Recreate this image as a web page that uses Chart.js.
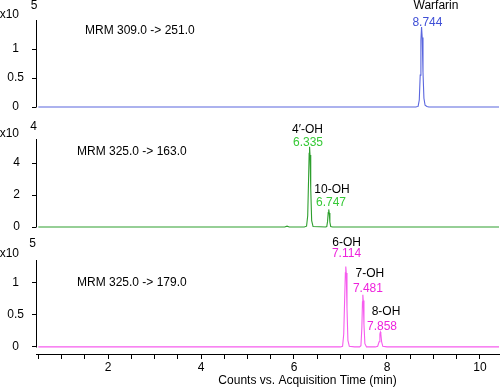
<!DOCTYPE html>
<html><head><meta charset="utf-8">
<script src="https://cdn.jsdelivr.net/npm/chart.js@4.4.1/dist/chart.umd.min.js"></script>
<style>
html,body{margin:0;padding:0;background:#fff;}
#wrap{position:relative;width:500px;height:388px;overflow:hidden;background:#fff;}
canvas{position:absolute;left:0;}
</style></head><body>
<div id="wrap">
<canvas id="c1" width="500" height="115" style="top:0px"></canvas>
<canvas id="c2" width="500" height="120" style="top:115px"></canvas>
<canvas id="c3" width="500" height="153" style="top:235px"></canvas>
</div>
<script>
// ---------------- DATA ----------------
const xAxisTitle = 'Counts vs. Acquisition Time (min)';
const xTickValues = [0.5,1,1.5,2,2.5,3,3.5,4,4.5,5,5.5,6,6.5,7,7.5,8,8.5,9,9.5,10];
const xLabeledTicks = [2,4,6,8,10];

// Panel 1: MRM 309.0 -> 251.0 (x10^5)
const p1Title = 'MRM 309.0 -> 251.0';
const p1Exponent = '5';
const p1YTicks = [0,0.5,1];
const p1Times = [0.5, 8.62, 8.67, 8.695, 8.715, 8.73, 8.744, 8.758, 8.775, 8.795, 8.82, 8.86, 8.9, 10.41];
const p1Values = [0, 0, 0.01, 0.12, 0.55, 1.15, 1.38, 1.2, 0.6, 0.15, 0.03, 0.01, 0, 0];
const p1PeakNames = ['Warfarin'];
const p1PeakTimes = [8.744];
const p1PeakHeights = [1.38];

// Panel 2: MRM 325.0 -> 163.0 (x10^4)
const p2Title = 'MRM 325.0 -> 163.0';
const p2Exponent = '4';
const p2YTicks = [0,2,4];
const p2Times = [0.5, 5.8, 5.85, 5.9, 6.22, 6.27, 6.295, 6.313, 6.326, 6.335, 6.345, 6.36, 6.38, 6.41, 6.68, 6.705, 6.722, 6.736, 6.747, 6.758, 6.772, 6.79, 6.83, 10.41];
const p2Values = [0, 0, 0.05, 0, 0, 0.05, 0.7, 2.9, 4.6, 5.02, 4.5, 2.4, 0.4, 0.03, 0, 0.03, 0.35, 0.9, 1.1, 0.88, 0.3, 0.03, 0, 0];
const p2PeakNames = ["4\u2032-OH", '10-OH'];
const p2PeakTimes = [6.335, 6.747];
const p2PeakHeights = [5.02, 1.1];

// Panel 3: MRM 325.0 -> 179.0 (x10^5)
const p3Title = 'MRM 325.0 -> 179.0';
const p3Exponent = '5';
const p3YTicks = [0,0.5,1];
const p3Times = [0.5, 7.0, 7.045, 7.07, 7.09, 7.105, 7.114, 7.124, 7.14, 7.16, 7.19, 7.3, 7.41, 7.44, 7.46, 7.473, 7.481, 7.49, 7.505, 7.525, 7.56, 7.75, 7.8, 7.83, 7.848, 7.858, 7.868, 7.885, 7.91, 8.0, 10.41];
const p3Values = [0, 0, 0.01, 0.2, 0.75, 1.15, 1.25, 1.15, 0.6, 0.1, 0.01, 0, 0, 0.02, 0.3, 0.7, 0.81, 0.72, 0.35, 0.05, 0, 0, 0.01, 0.08, 0.2, 0.23, 0.2, 0.08, 0.01, 0, 0];
const p3PeakNames = ['6-OH', '7-OH', '8-OH'];
const p3PeakTimes = [7.114, 7.481, 7.858];
const p3PeakHeights = [1.25, 0.81, 0.23];

// ---------------- STYLE ----------------
const FONT = '"Liberation Sans", Arial, sans-serif';
const styles = {
  p1: {line:'#5a66de', label:'#3f4fd6', yMin:0, yMax:1.5, pad:{top:20,bottom:0,left:0,right:1}, yPad:8, xHeight:8,
       titlePos:{x:85, dy:10.7}, expPos:{dyX10:-5.5, dyExp:-14, xExp:34},
       labelOffsets:[{dxNum:5.9, dyNum:4.3, dxName:14.4, dyName:21}]},
  p2: {line:'#2e9f2e', label:'#36c936', yMin:0, yMax:5.5, pad:{top:24,bottom:0,left:0,right:1}, yPad:12, xHeight:8,
       titlePos:{x:77, dy:12.7}, expPos:{dyX10:-5.7, dyExp:-12.3, xExp:33.5},
       labelOffsets:[{dxNum:-1.6, dyNum:4, dxName:-2.1, dyName:16.7},{dxNum:2.3, dyNum:6.7, dxName:3.3, dyName:19.4}]},
  p3: {line:'#f65cee', label:'#ee22dc', yMin:-0.11, yMax:1.35, pad:{top:25,bottom:0,left:0,right:1}, yPad:8, xHeight:34,
       titlePos:{x:77, dy:22.3}, expPos:{dyX10:-6.7, dyExp:-16, xExp:32.5},
       labelOffsets:[{dxNum:0.7, dyNum:12.4, dxName:0.9, dyName:23.7},{dxNum:5.1, dyNum:5.7, dxName:7.1, dyName:20.7},{dxNum:1.6, dyNum:5.4, dxName:5.6, dyName:20.4}]}
};
const X_MIN = 0.45, X_MAX = 10.41;

const annot = {
  id:'annot',
  afterDraw(chart, args, o){
    const {ctx, chartArea:a, scales:{x,y}} = chart;
    const st = o.style;
    ctx.save();
    ctx.strokeStyle = '#000'; ctx.lineWidth = 1;
    const ax = Math.floor(a.left) + 0.5;
    ctx.beginPath(); ctx.moveTo(ax, a.top); ctx.lineTo(ax, Math.round(y.getPixelForValue(0)) + 0.5); ctx.stroke();
    ctx.font = '12px ' + FONT;
    ctx.fillStyle = '#000';
    ctx.textBaseline = 'middle';
    ctx.textAlign = 'right';
    ctx.fillText('x10', 19, a.top + st.expPos.dyX10);
    ctx.textAlign = 'center';
    ctx.fillText(o.exponent, st.expPos.xExp, a.top + st.expPos.dyExp);
    ctx.textAlign = 'left';
    ctx.fillText(o.title, st.titlePos.x, a.top + st.titlePos.dy);
    ctx.textAlign = 'center';
    o.names.forEach((nm, i) => {
      const px = x.getPixelForValue(o.times[i]);
      const py = y.getPixelForValue(o.heights[i]);
      const off = st.labelOffsets[i];
      ctx.fillStyle = '#000';
      ctx.fillText(nm, px + off.dxName, py - off.dyName);
      ctx.fillStyle = st.label;
      ctx.fillText(o.times[i].toFixed(3), px + off.dxNum, py - off.dyNum);
    });
    if (o.axisTitle) {
      ctx.fillStyle = '#000';
      ctx.textAlign = 'center';
      ctx.fillText(o.axisTitle, 307.5, a.bottom + 27);
    }
    ctx.restore();
  }
};

function makeChart(id, times, values, st, yTicks, title, exponent, names, pTimes, pHeights, showX) {
  const data = times.map((t, i) => ({x:t, y:values[i]}));
  return new Chart(document.getElementById(id), {
    type:'line',
    data:{datasets:[{data, borderColor:st.line, borderWidth:1.1, pointRadius:0, fill:false, tension:0, clip:false}]},
    options:{
      responsive:false, animation:false, devicePixelRatio:1,
      layout:{padding:st.pad},
      plugins:{legend:{display:false}, tooltip:{enabled:false},
        annot:{style:st, title, exponent, names, times:pTimes, heights:pHeights, axisTitle: showX ? xAxisTitle : null}},
      scales:{
        x:{type:'linear', min:X_MIN, max:X_MAX, display:true,
           afterBuildTicks(s){ s.ticks = xTickValues.map(v => ({value:v})); },
           afterFit(s){ s.height = st.xHeight; s.paddingLeft = 0; s.paddingRight = 0; },
           grid:{display:showX, drawOnChartArea:false, drawTicks:showX, tickLength:5, color:'#000'},
           border:{display:showX, color:'#000'},
           ticks:{display:showX, autoSkip:false, maxRotation:0, padding:1, color:'#000', font:{family:FONT, size:12},
                  callback:(v) => xLabeledTicks.includes(v) ? String(v) : ''}},
        y:{type:'linear', min:st.yMin, max:st.yMax,
           afterBuildTicks(s){ s.ticks = yTicks.map(v => ({value:v})); },
           afterFit(s){ s.width = 36; s.paddingTop = 0; s.paddingBottom = 0; },
           grid:{drawOnChartArea:false, drawTicks:true, tickLength:4, color:'#000'},
           border:{display:false},
           ticks:{crossAlign:'center', padding:st.yPad, color:'#000', font:{family:FONT, size:12},
                  callback:(v) => String(v)}}
      }
    },
    plugins:[annot]
  });
}

makeChart('c1', p1Times, p1Values, styles.p1, p1YTicks, p1Title, p1Exponent, p1PeakNames, p1PeakTimes, p1PeakHeights, false);
makeChart('c2', p2Times, p2Values, styles.p2, p2YTicks, p2Title, p2Exponent, p2PeakNames, p2PeakTimes, p2PeakHeights, false);
makeChart('c3', p3Times, p3Values, styles.p3, p3YTicks, p3Title, p3Exponent, p3PeakNames, p3PeakTimes, p3PeakHeights, true);
</script>
</body></html>
